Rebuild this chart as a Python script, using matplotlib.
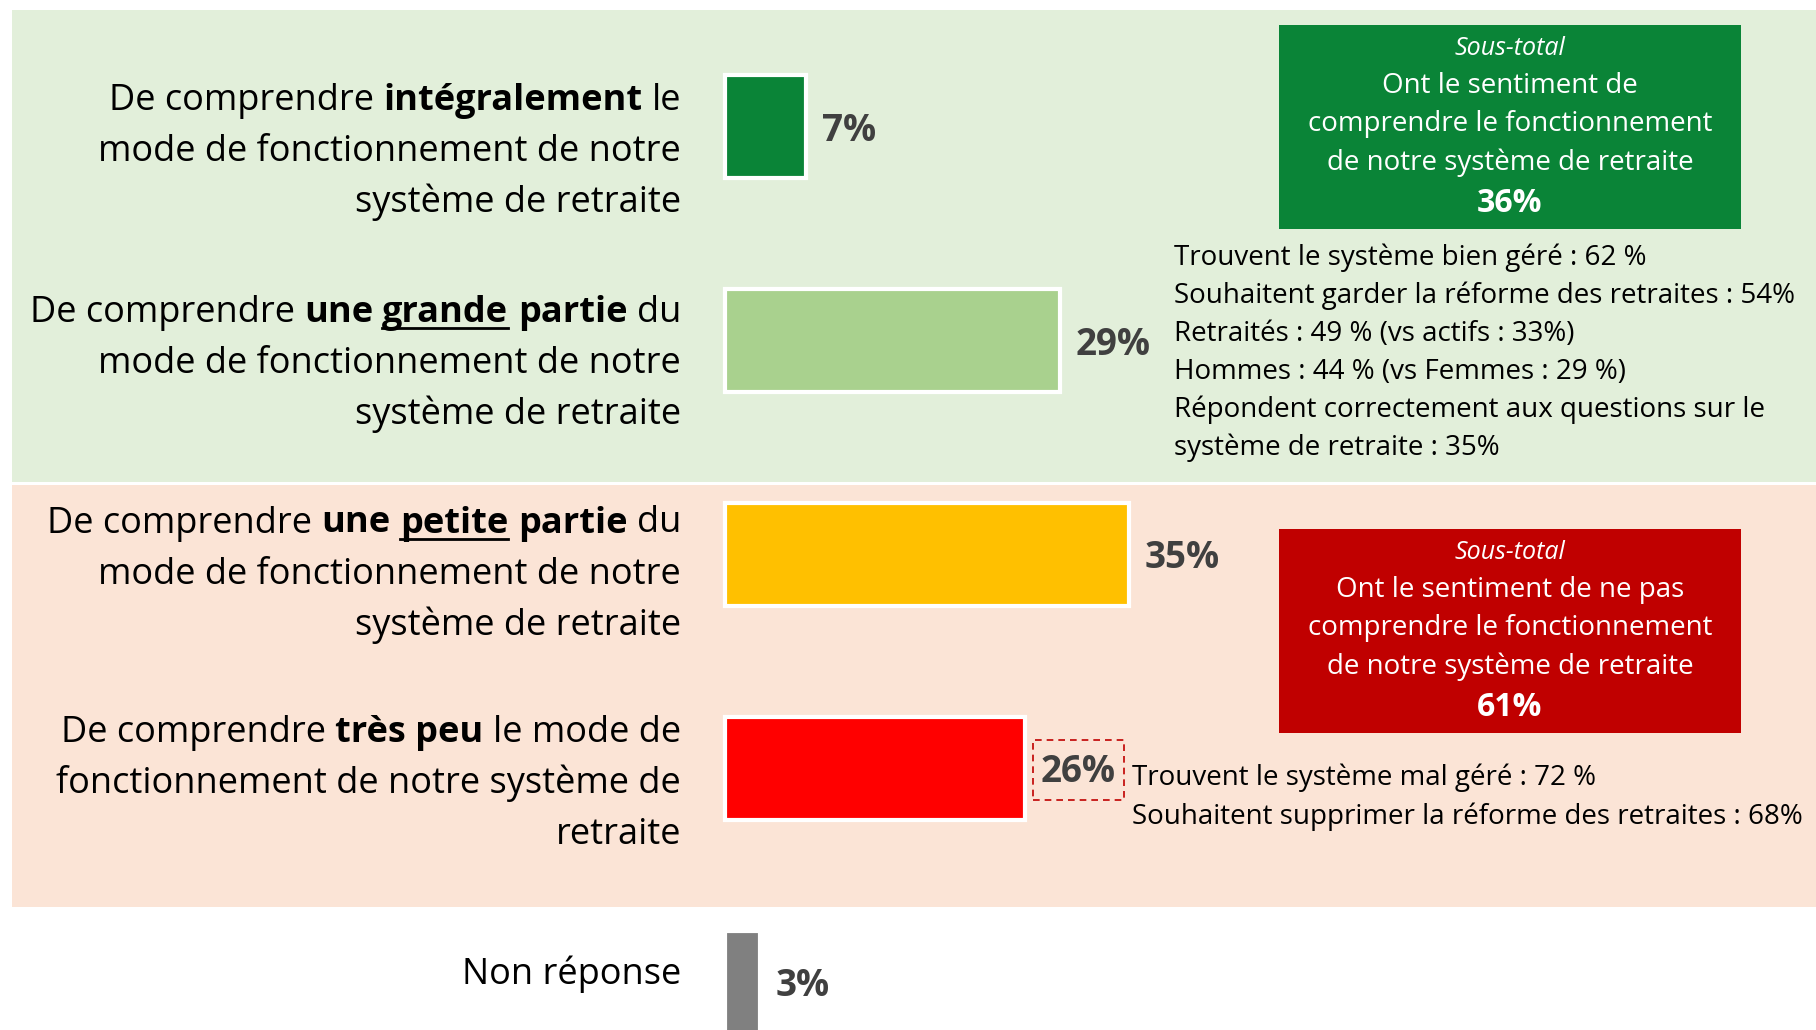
import matplotlib
matplotlib.use('Agg')
import matplotlib.pyplot as plt
from matplotlib.patches import Rectangle
from matplotlib.lines import Line2D

# Data
values = [7, 29, 35, 26, 3]
bar_colors = ['#0A8437', '#A9D18E', '#FFC000', '#FF0000', '#808080']

# each label: lines -> segments (text, bold, underline)
labels = [
    [[('De comprendre', 0, 0), ('intégralement', 1, 0), ('le', 0, 0)],
     [('mode de fonctionnement de notre', 0, 0)],
     [('système de retraite', 0, 0)]],
    [[('De comprendre', 0, 0), ('une', 1, 0), ('grande', 1, 1), ('partie', 1, 0), ('du', 0, 0)],
     [('mode de fonctionnement de notre', 0, 0)],
     [('système de retraite', 0, 0)]],
    [[('De comprendre', 0, 0), ('une', 1, 0), ('petite', 1, 1), ('partie', 1, 0), ('du', 0, 0)],
     [('mode de fonctionnement de notre', 0, 0)],
     [('système de retraite', 0, 0)]],
    [[('De comprendre', 0, 0), ('très peu', 1, 0), ('le mode de', 0, 0)],
     [('fonctionnement de notre système de', 0, 0)],
     [('retraite', 0, 0)]],
    [[('Non réponse', 0, 0)]],
]

subtotals = [36, 61]
subtotal_texts = [
    ['Ont le sentiment de', 'comprendre le fonctionnement', 'de notre système de retraite'],
    ['Ont le sentiment de ne pas', 'comprendre le fonctionnement', 'de notre système de retraite'],
]
subtotal_colors = ['#0A8437', '#C00000']

green_notes = ['Trouvent le système bien géré : 62 %',
               'Souhaitent garder la réforme des retraites : 54%',
               'Retraités : 49 % (vs actifs : 33%)',
               'Hommes : 44 % (vs Femmes : 29 %)',
               'Répondent correctement aux questions sur le',
               'système de retraite : 35%']
red_notes = ['Trouvent le système mal géré : 72 %',
             'Souhaitent supprimer la réforme des retraites : 68%']

FONT = ['Open Sans', 'DejaVu Sans']
plt.rcParams['font.family'] = FONT

W, H = 1816, 1030
fig = plt.figure(figsize=(W / 100, H / 100), dpi=100)
renderer = fig.canvas.get_renderer()


def fx(x):
    return x / W


def fy(y):
    return 1 - y / H


# background bands
fig.add_artist(Rectangle((fx(12), fy(482)), 1, (482 - 10) / H, transform=fig.transFigure,
                         facecolor='#E2EFDA', edgecolor='none', zorder=-2))
fig.add_artist(Rectangle((fx(12), fy(907)), 1, (907 - 485) / H, transform=fig.transFigure,
                         facecolor='#FBE4D6', edgecolor='none', zorder=-2))

# bars
px_per_pct = 11.54
x0_px = 725
ax = fig.add_axes([0, 0, 1, 1])
ax.patch.set_alpha(0)
ax.set_xlim(-x0_px / px_per_pct, (W - x0_px) / px_per_pct)
ax.set_ylim((H - 126.5) / 214, -126.5 / 214)
ax.axis('off')
ax.barh(range(len(values)), values, height=0.48, color=bar_colors,
        edgecolor='white', linewidth=3)

for i, v in enumerate(values):
    ax.annotate(f'{v}%', (v, i), xytext=(16, -14), textcoords='offset pixels',
                ha='left', va='baseline', fontsize=26.5, fontweight='bold', color='#404040')

# dashed frame around 26%
fig.add_artist(Rectangle((fx(1033), fy(800)), 91 / W, 60.5 / H, transform=fig.transFigure,
                         facecolor='none', edgecolor='#C00000', linestyle=(0, (4, 3)),
                         linewidth=1.2))


def text_w(s, size, weight):
    t = fig.text(0, 0, s, fontsize=size, fontweight=weight)
    w = t.get_window_extent(renderer).width
    t.remove()
    return w


def rich_line(x_right, y_base, segs, size):
    sp = text_w('a a', size, 'normal') - text_w('aa', size, 'normal')
    widths = [text_w(s, size, 'bold' if b else 'normal') for s, b, u in segs]
    x = x_right - sum(widths) - sp * (len(segs) - 1)
    for (s, b, u), w in zip(segs, widths):
        fig.text(fx(x), fy(y_base), s, fontsize=size, fontweight='bold' if b else 'normal',
                 ha='left', va='baseline', color='black')
        if u:
            fig.add_artist(Line2D([fx(x), fx(x + w)], [fy(y_base + 6), fy(y_base + 6)],
                                  transform=fig.transFigure, color='black', linewidth=2))
        x += w + sp


# category labels, first baseline offset from bar centre
label_offsets = [-16.5, -19, -22, -26.5, 1.5]
for i, lab in enumerate(labels):
    cy = H - ax.transData.transform((0, i))[1]
    for j, segs in enumerate(lab):
        rich_line(681, cy + label_offsets[i] + 51 * j, segs, 26)

# subtotal boxes
box_tops = [25, 529]
for k, pct in enumerate(subtotals):
    top = box_tops[k]
    fig.add_artist(Rectangle((fx(1279), fy(top + 204)), 462 / W, 204 / H,
                             transform=fig.transFigure, facecolor=subtotal_colors[k],
                             edgecolor='none'))
    fig.text(fx(1510), fy(top + 30), 'Sous-total', fontsize=18, fontstyle='italic',
             color='white', ha='center', va='baseline')
    for j, line in enumerate(subtotal_texts[k]):
        fig.text(fx(1510), fy(top + 68 + 38.5 * j), line, fontsize=20,
                 color='white', ha='center', va='baseline')
    fig.text(fx(1510), fy(top + 187), f'{pct}%', fontsize=23, fontweight='bold',
             color='white', ha='center', va='baseline')

# side notes
for j, line in enumerate(green_notes):
    fig.text(fx(1174), fy(265 + 38 * j), line, fontsize=20, color='black',
             ha='left', va='baseline')
for j, line in enumerate(red_notes):
    fig.text(fx(1132), fy(785 + 39 * j), line, fontsize=20, color='black',
             ha='left', va='baseline')

fig.savefig('out.png', dpi=100)
